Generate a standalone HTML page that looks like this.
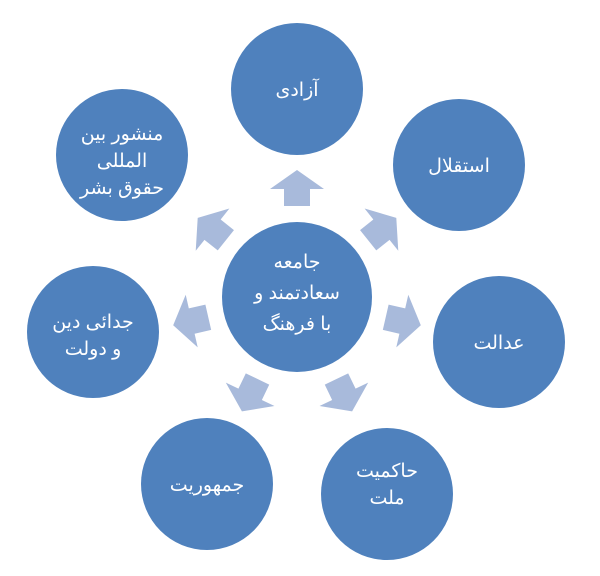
<!DOCTYPE html>
<html><head><meta charset="utf-8"><style>
body{margin:0;background:#fff;width:600px;height:571px;overflow:hidden}
svg text{font-family:"Liberation Sans","DejaVu Sans",sans-serif;fill:#fff;font-size:19px;text-anchor:middle}
</style></head><body>
<svg width="600" height="571" viewBox="0 0 600 571" xmlns="http://www.w3.org/2000/svg">
<defs>
<polygon id="ar" points="-13,-91 -13,-108 -27,-108 0,-127 27,-108 13,-108 13,-91" fill="#a8badb"/>
</defs>
<g transform="translate(297,297)">
<use href="#ar"/>
<use href="#ar" transform="rotate(51.43)"/>
<use href="#ar" transform="rotate(102.86)"/>
<use href="#ar" transform="rotate(154.29)"/>
<use href="#ar" transform="rotate(205.71)"/>
<use href="#ar" transform="rotate(257.14)"/>
<use href="#ar" transform="rotate(308.57)"/>
</g>
<g fill="#4f81bd">
<circle cx="297" cy="297" r="75"/>
<circle cx="297" cy="89" r="66"/>
<circle cx="459" cy="165" r="66"/>
<circle cx="499" cy="342" r="66"/>
<circle cx="387" cy="494" r="66"/>
<circle cx="207" cy="484" r="66"/>
<circle cx="93" cy="332" r="66"/>
<circle cx="122" cy="155" r="66"/>
</g>
<text x="297" y="268" font-size="23">جامعه</text>
<text x="297" y="299" font-size="23">سعادتمند و</text>
<text x="297" y="330" font-size="23">با فرهنگ</text>
<text x="297" y="96">آزادی</text>
<text x="459" y="172">استقلال</text>
<text x="499" y="349">عدالت</text>
<text x="387" y="477">حاکمیت</text>
<text x="387" y="504">ملت</text>
<text x="207" y="491">جمهوریت</text>
<text x="93" y="328">جدائی دین</text>
<text x="93" y="355">و دولت</text>
<text x="122" y="140">منشور بین</text>
<text x="122" y="167">المللی</text>
<text x="122" y="194">حقوق بشر</text>
</svg>
</body></html>
